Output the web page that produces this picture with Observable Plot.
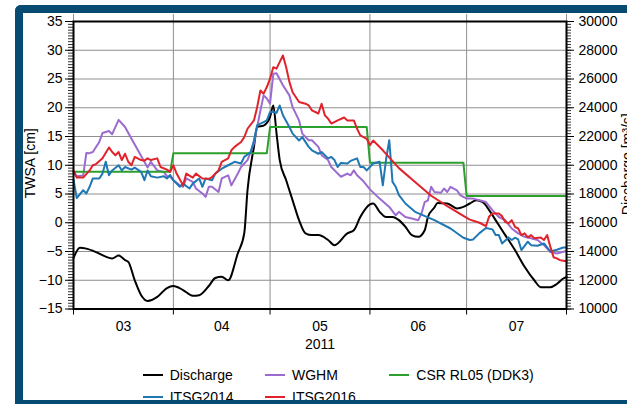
<!DOCTYPE html>
<html>
<head>
<meta charset="utf-8">
<script src="https://cdn.jsdelivr.net/npm/d3@7"></script>
<script src="https://cdn.jsdelivr.net/npm/@observablehq/plot@0.6"></script>
<style>
  body { margin: 0; background: #fff; }
  #wrap { position: relative; width: 627px; height: 404px; overflow: hidden;
          font-family: "Liberation Sans", Arial, sans-serif; }
  #wrap svg { position: absolute; left: 0; top: 0; }
  .bar { position: absolute; background: #074b73; z-index: 5; }
  .item { position: absolute; display: flex; align-items: center; height: 16px;
          font-size: 14px; line-height: 16px; white-space: nowrap; color: #000; }
  .sw { width: 20px; height: 2px; margin-right: 7px; }
</style>
</head>
<body>
<div id="wrap"></div>
<script>
// ---------------- data ----------------
const year = 2011;
const monthLabels = ["03", "04", "05", "06", "07"];
const leftTicks = [-15, -10, -5, 0, 5, 10, 15, 20, 25, 30, 35];
const rightTicks = [10000, 12000, 14000, 16000, 18000, 20000, 22000, 24000, 26000, 28000, 30000];
const seriesNames = ["Discharge", "WGHM", "CSR RL05 (DDK3)", "ITSG2014", "ITSG2016"];

// Discharge [m3/s], right axis
const dischargeDates = ["03-01","03-03","03-05","03-08","03-11","03-13","03-15","03-17","03-18","03-20","03-22","03-24","03-27","03-30",
  "04-01","04-04","04-07","04-09","04-12","04-14","04-16","04-18","04-21","04-23","04-24","04-26","04-27","04-29",
  "05-01","05-02","05-03","05-04","05-06","05-08","05-10","05-12","05-14","05-16","05-19","05-21","05-25","05-27","05-29",
  "06-01","06-02","06-04","06-06","06-08","06-10","06-12","06-14","06-16","06-18","06-19","06-21","06-22","06-25","06-28","06-30",
  "07-02","07-04","07-06","07-08","07-10","07-13","07-16","07-19","07-22","07-24","07-27","07-29","07-31","08-01"];
const dischargeValues = [13540,14260,14200,13960,13640,13520,13720,13400,13280,12000,10960,10560,10840,11460,
  11600,11320,10920,10960,11600,12160,12240,12000,13880,15280,18260,21280,22660,22760,
  23360,24160,22240,20360,18960,17560,16180,15260,15140,15140,14800,14440,15260,15480,16400,
  17280,17340,16760,16400,16400,16180,15720,15140,15020,15480,16400,17060,17380,17340,17000,17100,
  17340,17560,17440,16880,16180,15140,14100,12940,12000,11520,11520,11740,12120,12240];

// WGHM TWSA [cm]
const wghmDates = ["03-01","03-02","03-04","03-05","03-06","03-07","03-09","03-10","03-12","03-13","03-15","03-17","03-19","03-21","03-23","03-24","03-25","03-27","03-29","03-30","03-31",
  "04-01","04-03","04-04","04-05","04-07","04-08","04-10","04-11","04-12","04-13","04-15","04-16","04-18","04-19","04-21","04-22","04-24","04-26","04-27","04-28","04-29","04-30",
  "05-01","05-02","05-03","05-05","05-07","05-08","05-10","05-11","05-13","05-14","05-16","05-17","05-19","05-20","05-22","05-23","05-25","05-26","05-27","05-28","05-30",
  "06-01","06-04","06-07","06-09","06-10","06-12","06-14","06-16","06-17","06-18","06-19","06-20","06-21","06-23","06-24","06-25","06-26","06-28","06-29",
  "07-01","07-03","07-05","07-07","07-09","07-11","07-13","07-15","07-17","07-19","07-21","07-23","07-25","07-27","07-29","07-31","08-01"];
const wghmValues = [8.85,8.1,8.2,12.15,12.1,12.3,14.05,15.6,15.95,15.4,17.9,16.65,14.6,12.6,10.6,9.6,10.6,9.1,8.85,8.1,8.0,
  7.4,6.5,6.25,7.7,7.1,5.95,5.1,4.5,6.25,6.25,5.35,7.7,8.25,6.5,8.55,9.7,10.9,13.8,16.65,19.5,22.15,21.6,
  20.7,25.9,26.0,23.9,22.15,20.1,17.8,15.5,14.35,14.35,13.2,11.75,10.9,9.7,8.55,8.0,8.55,8.25,9.1,8.25,7.2,
  5.8,4.2,2.75,1.3,1.9,1.0,0.75,0.45,1.6,3.6,3.9,6.25,5.35,5.2,5.95,5.35,6.25,5.65,4.8,
  4.2,4.2,3.9,3.6,2.2,1.0,0.45,-1.0,-1.85,-2.45,-2.7,-3.0,-3.9,-5.1,-5.35,-5.05,-4.9];

// CSR RL05 (DDK3), monthly values [cm]
const csrValues = [8.85, 12.1, 16.65, 10.45, 4.65];

// ITSG2014 [cm]
const itsg2014Dates = ["03-01","03-02","03-04","03-05","03-06","03-07","03-09","03-10","03-11","03-12","03-13","03-15","03-16","03-17","03-19","03-20","03-22","03-23","03-24","03-25","03-27","03-29","03-30","03-31",
  "04-01","04-03","04-04","04-06","04-07","04-09","04-10","04-11","04-13","04-14","04-16","04-18","04-20","04-22","04-23","04-25","04-26","04-27","04-28","04-29","04-30",
  "05-01","05-02","05-03","05-04","05-05","05-07","05-08","05-10","05-11","05-13","05-14","05-16","05-17","05-19","05-20","05-21","05-22","05-23","05-25","05-26","05-28","05-29","05-30","05-31",
  "06-02","06-04","06-05","06-06","06-07","06-08","06-09","06-10","06-12","06-15","06-21","06-26","06-30",
  "07-02","07-03","07-05","07-07","07-09","07-10","07-11","07-12","07-14","07-15","07-16","07-17","07-18","07-20","07-21","07-23","07-25","07-27","07-29","07-31","08-01"];
const itsg2014Values = [7.5,4.3,5.65,5.1,6.25,7.7,7.7,8.55,10.6,8.25,9.1,10.0,9.1,9.7,9.25,9.6,8.85,7.4,9.1,8.1,7.85,8.1,7.7,8.3,
  7.4,6.25,6.8,5.95,6.8,7.7,6.25,7.7,7.4,8.55,9.4,10.0,10.6,10.3,11.45,12.3,14.3,16.95,17.25,17.5,17.8,
  19.25,19.25,19.1,20.4,18.7,16.65,15.5,14.3,14.9,13.2,12.6,12.0,12.3,11.2,11.45,10.9,9.7,10.4,10.3,10.75,11.2,9.7,9.7,9.1,
  10.3,10.6,6.5,11.0,14.35,7.1,6.25,4.8,3.35,1.9,0.45,-1.0,-2.6,
  -3.0,-2.9,-1.8,-0.9,-1.15,-2.15,-2.15,-3.6,-2.55,-3.0,-2.6,-2.9,-4.75,-3.3,-3.9,-4.0,-3.6,-5.0,-4.7,-4.3,-4.3];

// ITSG2016 [cm]
const itsg2016Dates = ["03-01","03-02","03-04","03-06","03-07","03-08","03-10","03-12","03-13","03-14","03-15","03-16","03-17","03-18","03-19","03-20","03-22","03-23","03-24","03-25","03-27","03-28","03-30","03-31",
  "04-01","04-02","04-04","04-05","04-07","04-08","04-10","04-12","04-13","04-15","04-16","04-18","04-19","04-20","04-22","04-23","04-24","04-26","04-27","04-28","04-29","04-30",
  "05-01","05-02","05-03","05-05","05-06","05-07","05-08","05-10","05-12","05-13","05-14","05-16","05-17","05-18","05-19","05-20","05-22","05-24","05-25","05-27","05-28","05-29","05-31",
  "06-01","06-02","06-05","06-10","06-15","06-20","06-25","06-30",
  "07-02","07-05","07-07","07-08","07-09","07-11","07-12","07-13","07-14","07-15","07-16","07-17","07-18","07-19","07-20","07-21","07-22","07-24","07-25","07-26","07-27","07-28","07-29","07-30","07-31","08-01"];
const itsg2016Values = [9.1,7.85,7.85,9.1,10.0,10.2,11.2,13.1,12.3,11.75,12.3,10.9,12.0,10.6,10.0,11.45,10.9,10.8,11.2,10.9,11.2,9.7,9.25,8.85,
  10.0,8.55,6.5,8.55,7.85,8.55,7.7,7.65,7.95,9.1,10.6,11.2,12.6,13.2,14.05,14.9,16.35,17.8,20.1,23.0,22.45,23.6,
  25.05,27.05,26.8,29.1,27.05,24.5,22.7,21.0,20.7,20.4,19.55,19.0,20.7,18.7,18.1,17.25,17.8,18.3,17.8,17.8,16.35,15.2,14.6,
  13.5,14.3,12.6,9.5,7.1,4.7,2.9,1.2,
  0.55,0.0,-0.6,1.1,1.6,1.6,1.15,0.15,-0.1,0.45,-0.7,-1.0,-2.15,-1.85,-2.55,-2.15,-2.7,-2.55,-3.0,-2.15,-4.2,-6.0,-6.2,-6.5,-6.6,-6.7];

// ---------------- styles ----------------
const colors = { "Discharge": "#000000", "WGHM": "#9b6bd0", "CSR RL05 (DDK3)": "#2ca02c",
                 "ITSG2014": "#1f77b4", "ITSG2016": "#e0232b" };

// ---------------- helpers ----------------
const parse = s => new Date(`${year}-${s}T00:00:00Z`);
const dischargeToLeft = d3.scaleLinear([rightTicks[0], rightTicks[rightTicks.length - 1]],
                                       [leftTicks[0], leftTicks[leftTicks.length - 1]]);
const monthStarts = d3.utcMonth.range(new Date(Date.UTC(year, 2, 1)), new Date(Date.UTC(year, 7, 2)));
const monthMids = monthLabels.map((m, i) => new Date((+monthStarts[i] + +monthStarts[i + 1]) / 2));
const minorTicks = d3.range(leftTicks[0], leftTicks[leftTicks.length - 1] + 0.001, 0.5);

const toRows = (dates, vals, f = v => v) => dates.map((d, i) => ({ date: parse(d), v: f(vals[i]) }));
const discharge = toRows(dischargeDates, dischargeValues, dischargeToLeft);
const wghm = toRows(wghmDates, wghmValues);
const itsg2014 = toRows(itsg2014Dates, itsg2014Values);
const itsg2016 = toRows(itsg2016Dates, itsg2016Values);
const csr = [];
csrValues.forEach((v, i) => {
  const start = monthStarts[i];
  const end = i === csrValues.length - 1 ? monthStarts[i + 1] : d3.utcDay.offset(monthStarts[i + 1], -1);
  csr.push({ date: start, v }, { date: end, v });
});

const fmtMinus = d => d < 0 ? "\u2212" + (-d) : String(d);
const monthLabelOf = d => monthLabels[monthMids.findIndex(m => +m === +d)];

const W = 627, H = 360;
const chart = Plot.plot({
  width: W, height: H,
  marginLeft: 73, marginRight: 61, marginTop: 21, marginBottom: 51.5,
  style: { fontFamily: "'Liberation Sans', Arial, sans-serif", fontSize: "14px", background: "transparent", overflow: "visible" },
  x: { type: "utc", domain: [monthStarts[0], monthStarts[monthStarts.length - 1]] },
  y: { domain: [leftTicks[0], leftTicks[leftTicks.length - 1]] },
  marks: [
    Plot.gridY(leftTicks, { stroke: "#8f8f8f", strokeOpacity: 1, strokeWidth: 1 }),
    Plot.gridX(monthStarts, { stroke: "#8f8f8f", strokeOpacity: 1, strokeWidth: 1 }),
    Plot.axisX(monthStarts, { anchor: "top", tickSize: 8, tickFormat: () => "", stroke: "#8f8f8f", label: null }),
    Plot.line(discharge, { x: "date", y: "v", stroke: colors["Discharge"], strokeWidth: 2, curve: "monotone-x" }),
    Plot.line(wghm, { x: "date", y: "v", stroke: colors["WGHM"], strokeWidth: 2 }),
    Plot.line(csr, { x: "date", y: "v", stroke: colors["CSR RL05 (DDK3)"], strokeWidth: 2 }),
    Plot.line(itsg2014, { x: "date", y: "v", stroke: colors["ITSG2014"], strokeWidth: 2 }),
    Plot.line(itsg2016, { x: "date", y: "v", stroke: colors["ITSG2016"], strokeWidth: 2 }),
    Plot.frame({ stroke: "#000", strokeWidth: 2 }),
    Plot.axisY(minorTicks, { anchor: "left", tickSize: 5, tickFormat: () => "", label: null, strokeWidth: 0.8 }),
    Plot.axisY(minorTicks, { anchor: "right", tickSize: 4, tickFormat: () => "", label: null, strokeWidth: 0.8 }),
    Plot.axisY(leftTicks, { anchor: "left", tickSize: 8, tickPadding: 3, tickFormat: fmtMinus, label: null, fontSize: 14 }),
    Plot.axisY(rightTicks.map(dischargeToLeft), { anchor: "right", tickSize: 7, tickPadding: 5, label: null, fontSize: 14,
      tickFormat: t => String(Math.round(dischargeToLeft.invert(t))) }),
    Plot.axisX(monthStarts, { anchor: "bottom", tickSize: 6, tickFormat: () => "", label: null }),
    Plot.axisX(monthMids, { anchor: "bottom", tickSize: 0, tickPadding: 12, tickFormat: monthLabelOf, label: null, fontSize: 14 }),
    Plot.text([String(year)], { frameAnchor: "bottom", dy: 30, lineAnchor: "top", fontSize: 14 }),
    Plot.text(["TWSA [cm]"], { frameAnchor: "left", textAnchor: "middle", dx: -42.5, dy: -2, rotate: -90, fontSize: 14 }),
    Plot.text(["Discharge [m\u00b3/s]"], { frameAnchor: "right", textAnchor: "middle", dx: 61, dy: -1, rotate: -90, fontSize: 14 })
  ]
});

const wrap = document.getElementById("wrap");
wrap.appendChild(chart);

// legend (HTML)
const legendPos = [[142.7, 367], [265, 367], [389.3, 367], [142.7, 388.7], [265, 388.7]];
seriesNames.forEach((name, i) => {
  const it = document.createElement("div");
  it.className = "item";
  it.style.left = legendPos[i][0] + "px";
  it.style.top = legendPos[i][1] + "px";
  const sw = document.createElement("span");
  sw.className = "sw";
  sw.style.background = colors[name];
  it.appendChild(sw);
  it.appendChild(document.createTextNode(name));
  wrap.appendChild(it);
});

// decorative frame bars
[[15, 5, 612, 7.5, "6px 0 0 0"], [15, 5, 7.5, 399, "6px 0 0 0"], [15, 400, 612, 4, "0"]].forEach(([l, t, w, h, r]) => {
  const b = document.createElement("div");
  b.className = "bar";
  Object.assign(b.style, { left: l + "px", top: t + "px", width: w + "px", height: h + "px", borderRadius: r });
  wrap.appendChild(b);
});
</script>
</body>
</html>
